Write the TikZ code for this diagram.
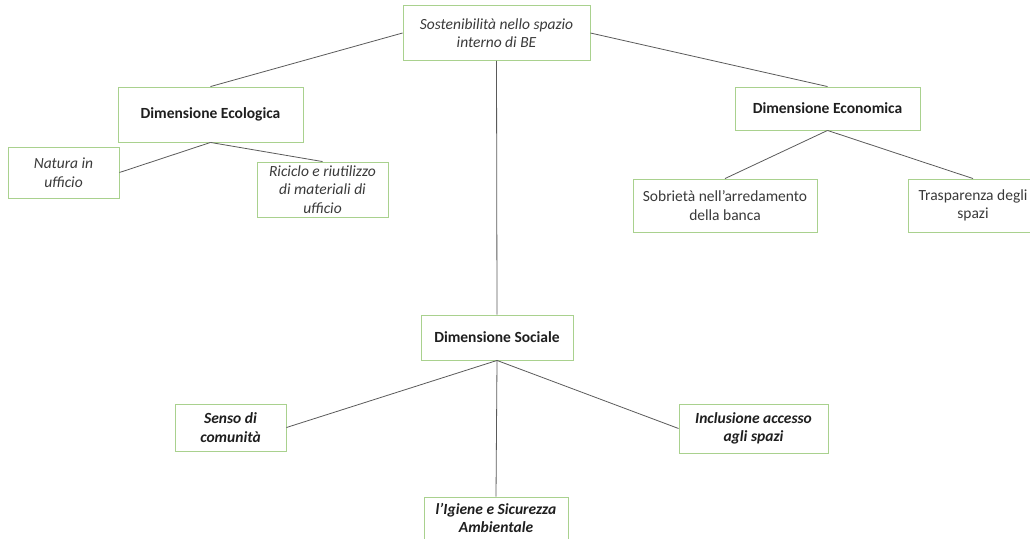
\documentclass[tikz,border=0pt]{standalone}
\usepackage{fontspec}
\setmainfont{Carlito}
\definecolor{boxgreen}{HTML}{A9D18E}
\definecolor{linkgray}{HTML}{5A5A5A}
\definecolor{txtgray}{HTML}{3A3A3A}
\newcommand{\boxfont}{\fontsize{15.5}{18.5}\selectfont}
\begin{document}
\begin{tikzpicture}[x=1pt,y=-1pt,
  box/.style={draw=boxgreen,line width=0.9pt,fill=white,inner sep=0pt,align=center,
    text=txtgray,font=\boxfont},
  head/.style={box,text=black!88,font=\boxfont\bfseries},
  leafit/.style={box,font=\boxfont\itshape},
  leafbi/.style={box,text=black!88,font=\boxfont\bfseries\itshape},
  link/.style={draw=linkgray,line width=0.8pt}]
\useasboundingbox (0,0) rectangle (1030,538);
% root
\node[leafit,minimum width=187pt,minimum height=55pt] (root) at (496.5,33)
  {Sostenibilità nello spazio\\interno di BE};
% three dimensions
\node[head,minimum width=185pt,minimum height=55pt] (eco) at (210.5,114.5) {Dimensione Ecologica};
\node[head,minimum width=185pt,minimum height=43pt] (econ) at (827.5,108.5) {Dimensione Economica};
\node[head,minimum width=152pt,minimum height=45pt] (soc) at (497,337.5) {Dimensione Sociale};
% ecological branch
\node[leafit,minimum width=111pt,minimum height=51pt] (nat) at (63.5,172.5) {Natura in\\ufficio};
\node[leafit,minimum width=131pt,minimum height=55pt] (ric) at (322.5,189.5)
  {Riciclo e riutilizzo\\di materiali di\\ufficio};
% economic branch
\node[box,minimum width=184pt,minimum height=53pt] (sob) at (725,205.5)
  {Sobrietà nell’arredamento\\della banca};
\node[box,minimum width=130pt,minimum height=53pt] (tra) at (973,205.5)
  {Trasparenza degli\\spazi};
% social branch
\node[leafbi,minimum width=111pt,minimum height=47pt] (sen) at (230.5,427.5) {Senso di\\comunità};
\node[leafbi,minimum width=149pt,minimum height=49pt] (inc) at (753.5,428.5)
  {Inclusione accesso\\agli spazi};
\node[leafbi,minimum width=144pt,minimum height=42pt] (igi) at (496,518)
  {l’Igiene e Sicurezza\\Ambientale};
% connectors
\draw[link] (root.west) -- (eco.north);
\draw[link] (root.east) -- (econ.north);
\draw[link] (root.south) -- (soc.north);
\draw[link] (eco.south) -- (nat.east);
\draw[link] (eco.south) -- (ric.north);
\draw[link] (econ.south) -- (sob.north);
\draw[link] (econ.south) -- (tra.north);
\draw[link] (soc.south) -- (sen.east);
\draw[link] (soc.south) -- (inc.west);
\draw[link] (soc.south) -- (igi.north);
\end{tikzpicture}
\end{document}
